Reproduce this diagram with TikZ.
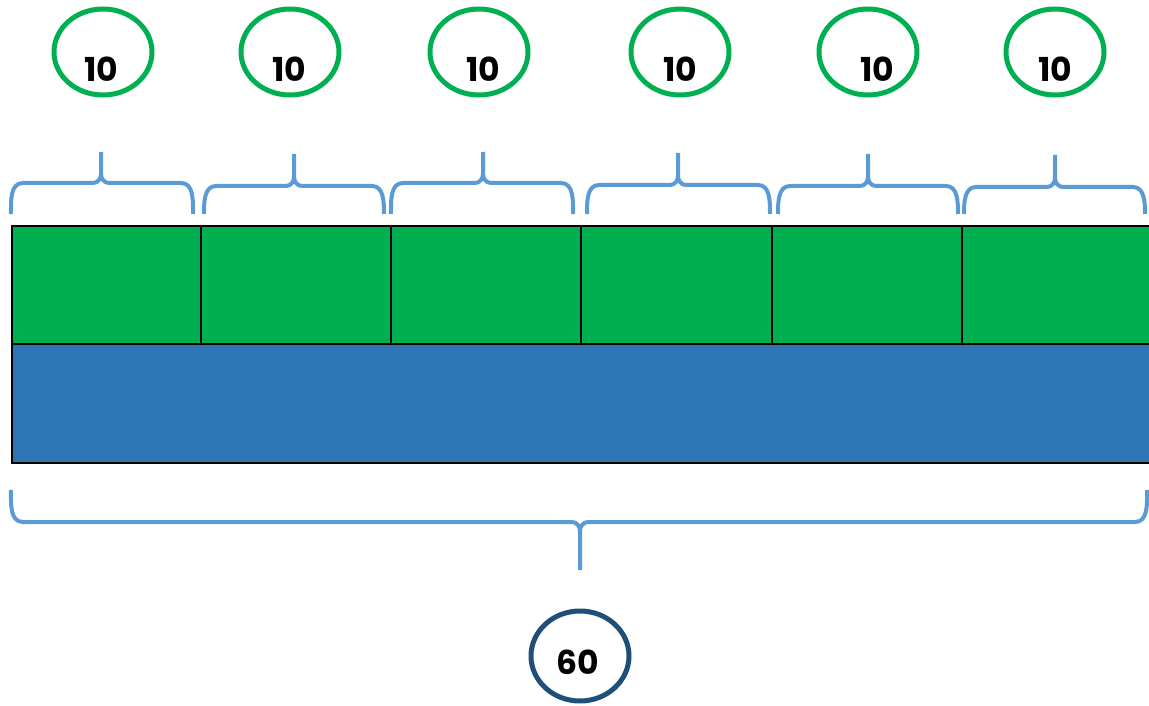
\documentclass[tikz,border=0pt]{standalone}
\usepackage{fontspec}
\setmainfont{Poppins}
\definecolor{cellgreen}{RGB}{0,176,80}
\definecolor{barblue}{RGB}{46,117,182}
\definecolor{bracecol}{RGB}{91,155,213}
\definecolor{ringblue}{RGB}{31,78,121}
\usetikzlibrary{shapes.geometric}
\tikzset{
  cell/.style={draw=black, line width=1.6pt, fill=cellgreen, minimum height=118pt, inner sep=0pt, anchor=north west},
  bar/.style={draw=black, line width=1.6pt, fill=barblue, minimum width=1140pt, minimum height=119pt, inner sep=0pt, anchor=north west},
  part/.style={draw=cellgreen, line width=5pt, ellipse, minimum width=98pt, minimum height=86pt, inner sep=0pt},
  whole/.style={draw=ringblue, line width=5pt, ellipse, minimum width=98pt, minimum height=90pt, inner sep=0pt},
  num/.style={font=\bfseries\fontsize{33}{33}\selectfont, inner sep=0pt},
  brace/.style={draw=bracecol, line width=4pt, line cap=butt, line join=round}
}
\begin{document}
\begin{tikzpicture}[x=1pt,y=-1pt]
\useasboundingbox (0,0) rectangle (1149,706);
% blue bar under the row of cells
\node[bar] (whole bar) at (11,343) {};
% six green cells: left edge and width
\foreach \i/\x/\w in {1/11/189,2/200/190,3/390/190,4/580/191,5/771/190,6/961/190}
  \node[cell, minimum width=\w pt] (c\i) at (\x,225) {};
% top braces: left end, right end, tip, level
\foreach \a/\b/\c/\h/\t in {11/193/101/183/152, 204/384/294/186/154, 391/573/483/183/152, 587/770/678/185/153, 778/958/868/186/154, 964/1145/1055/187/155}{
  \draw[brace] (\a,214) to[out=90,in=180] (\a+12,\h) -- (\c-8,\h) to[out=0,in=-90] (\c,\h-9) -- (\c,\t);
  \draw[brace] (\b,214) to[out=90,in=0] (\b-12,\h) -- (\c+8,\h) to[out=180,in=-90] (\c,\h-9);
}
% bottom brace over the whole bar
\draw[brace] (11,490) to[out=-90,in=180] (23,522) -- (572,522) to[out=0,in=90] (580,531) -- (580,570);
\draw[brace] (1147,490) to[out=-90,in=0] (1135,522) -- (588,522) to[out=180,in=90] (580,531);
% parts
\foreach \i/\x/\tx in {1/103/101,2/290/289,3/479/483,4/680/680,5/868/877,6/1055/1055}{
  \node[part] (p\i) at (\x,52) {};
  \node[num] (t\i) at (\tx,69) {10};
}
% whole
\node[whole] (w) at (580,656) {};
\node[num] (tw) at (578,662) {60};
\end{tikzpicture}
\end{document}
